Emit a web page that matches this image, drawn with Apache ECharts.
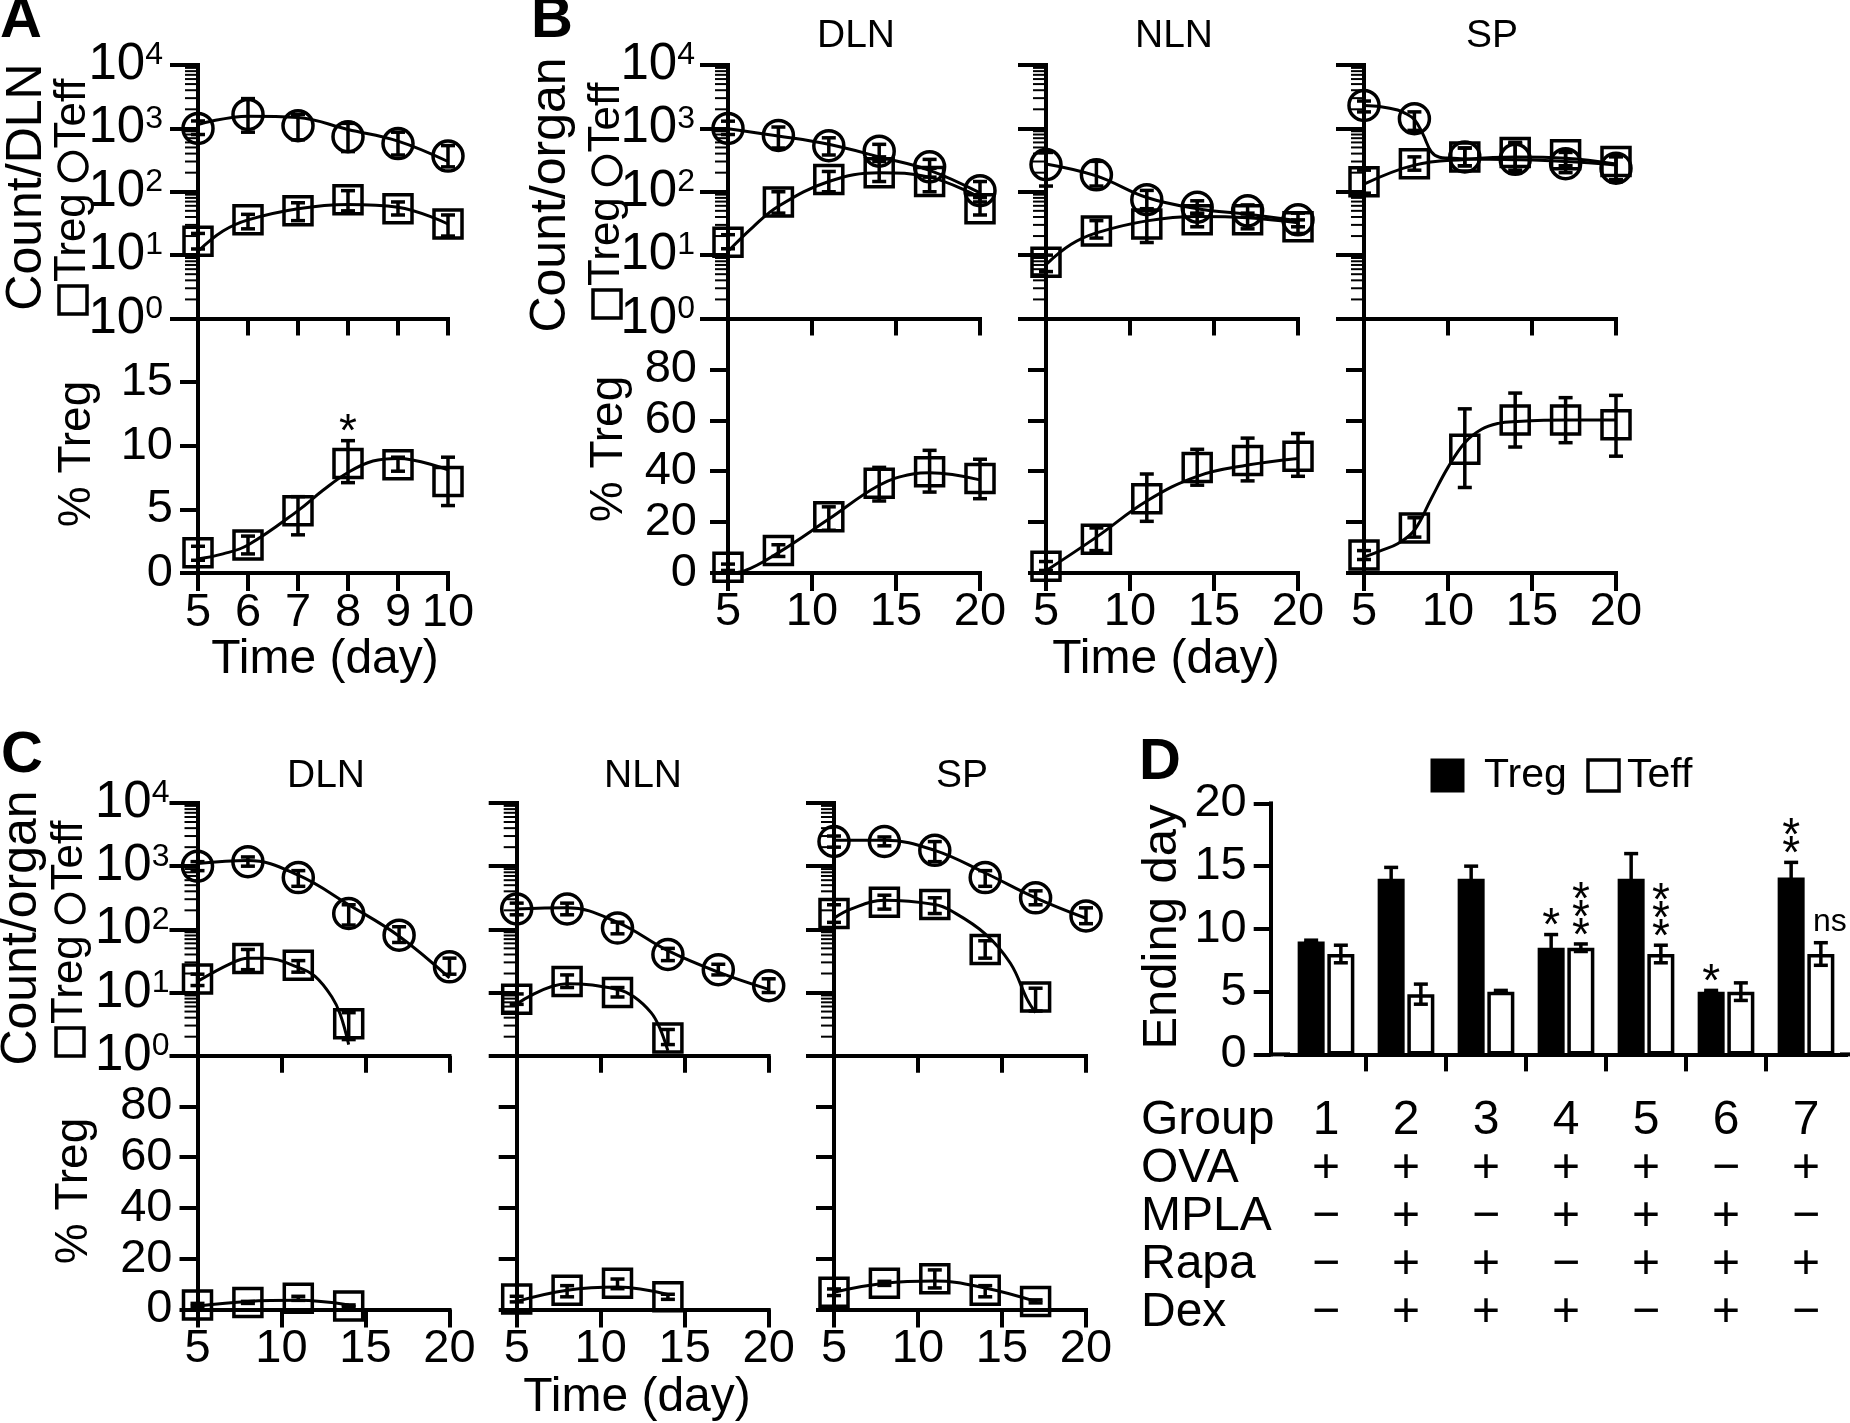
<!DOCTYPE html>
<html><head><meta charset="utf-8">
<script src="https://cdn.jsdelivr.net/npm/echarts@6/dist/echarts.min.js"></script>
<style>html,body{margin:0;padding:0;background:#fff}#c{width:1850px;height:1423px}</style>
</head><body><div id="c"></div>
<script>
// ---------------- Panel A (DLN, days 5-10) ----------------
const A_days = [5, 6, 7, 8, 9, 10];
const A_teff = [1000, 1660, 1100, 740, 575, 365];
const A_teffLo = [800, 870, 660, 430, 380, 247];
const A_teffHi = [1310, 2950, 1660, 1200, 870, 535];
const A_treg = [16.5, 36, 50, 75, 54, 31];
const A_tregLo = [12.5, 26, 35, 50, 43, 20];
const A_tregHi = [22, 44, 67, 104, 69, 43];
const A_pct = [1.6, 2.2, 4.9, 8.6, 8.5, 7.2];
const A_pctLo = [1.0, 1.5, 3.0, 7.1, 8.0, 5.3];
const A_pctHi = [2.1, 2.9, 6.0, 10.4, 9.1, 9.1];
const A_pctSig = ['', '', '', '*', '', ''];
const A_teffFit = [[5, 1150], [6, 1560], [7, 1480], [8, 960], [9, 630], [10, 300]];
const A_tregFit = [[5, 11.5], [5.5, 24], [6, 36], [7, 54], [8, 63], [9, 57], [10, 31]];
const A_pctFit = [[5, 1.1], [5.5, 1.5], [6, 2.2], [7, 4.9], [7.5, 6.5], [8, 7.9], [8.5, 8.8], [9, 9.0], [10, 8.1]];

// ---------------- Panels B and C (days 5-20) ----------------
const BC_days = [5, 8, 11, 14, 17, 20];
// B DLN
const BD_teff = [1000, 775, 533, 437, 247, 104];
const BD_teffLo = [800, 490, 380, 300, 170, 69];
const BD_teffHi = [1300, 1050, 710, 560, 324, 145];
const BD_treg = [16, 69, 156, 200, 145, 54];
const BD_tregLo = [12.6, 46, 100, 145, 100, 43];
const BD_tregHi = [21, 100, 209, 355, 234, 81];
const BD_pct = [2.3, 8.8, 22.1, 35.3, 39.8, 37.1];
const BD_pctLo = [1.0, 6.5, 16.8, 28.3, 31.8, 29.2];
const BD_pctHi = [3.5, 11.1, 26, 41.5, 48.2, 44.7];
const BD_teffFit = [[5, 990], [8, 760], [11, 560], [14, 355], [17, 218], [20, 96]];
const BD_tregFit = [[5, 11.5], [6.5, 28], [8, 59], [11, 145], [14, 200], [17, 170], [20, 81]];
const BD_pctFit = [[5, 0], [6, 0.9], [8, 8], [11, 21.2], [14, 34.5], [16, 38.9], [17, 39.4], [20, 36.6]];
// B NLN
const BN_teff = [268, 185, 75, 57, 50, 36];
const BN_teffLo = [123, 123, 54, 45, 40, 28];
const BN_teffHi = [417, 302, 105, 72, 62, 46];
const BN_treg = [7.7, 24, 31, 36, 36, 28];
const BN_tregLo = [5.5, 18.6, 15.8, 28, 26, 22];
const BN_tregHi = [10, 35, 50, 46, 46, 36];
const BN_pct = [2.7, 13.3, 29.2, 41.5, 44.2, 45.9];
const BN_pctLo = [1.0, 8.8, 20.3, 34.5, 36.2, 38];
const BN_pctHi = [4.5, 17.7, 38.9, 48.6, 53, 54.8];
const BN_teffFit = [[5, 275], [8, 178], [11, 81], [14, 54], [17, 44], [20, 35]];
const BN_tregFit = [[5, 7.1], [6.5, 14.8], [8, 22.4], [11, 34.7], [14, 40.7], [17, 38.9], [20, 32.4]];
const BN_pctFit = [[5, 0.9], [8, 14.1], [11, 28.3], [14, 38], [17, 42.4], [20, 45]];
// B SP
const BS_teff = [2300, 1420, 355, 325, 277, 235];
const BS_teffLo = [1820, 930, 257, 200, 200, 145];
const BS_teffHi = [2700, 1820, 490, 575, 417, 355];
const BS_treg = [144, 277, 355, 417, 383, 300];
const BS_tregLo = [95, 219, 257, 219, 257, 155];
const BS_tregHi = [219, 355, 490, 603, 447, 380];
const BS_pct = [7.1, 17.7, 48.6, 60.1, 60.1, 58.3];
const BS_pctLo = [5.3, 14.1, 33.6, 49.5, 51.2, 45.9];
const BS_pctHi = [8.8, 21.7, 64.5, 70.7, 68.9, 69.8];
const BS_teffFit = [[5, 2290], [6, 2200], [7, 1950], [7.5, 1700], [8, 1380], [8.5, 820], [9, 430], [9.5, 350], [10, 340], [11, 330], [14, 320], [17, 300], [20, 265]];
const BS_tregFit = [[5, 132], [8, 263], [11, 324], [14, 355], [17, 339], [20, 275]];
const BS_pctFit = [[5, 6.2], [6, 8.8], [7, 11.5], [8, 16.8], [9, 29.2], [10, 41.5], [11, 51.2], [12, 56.5], [13, 58.8], [14, 59.5], [17, 60.1], [20, 60.1]];
// C DLN
const CD_teff = [1000, 1180, 660, 178, 81, 25.5];
const CD_teffLo = [850, 1000, 480, 117, 62, 19.5];
const CD_teffHi = [1180, 1400, 850, 245, 110, 35];
const CD_treg = [16.4, 34.5, 27, 3.2];
const CD_tregLo = [12.9, 23, 21, 1.8];
const CD_tregHi = [19.5, 48, 32, 4.8];
const CD_pct = [1.8, 2.8, 4.4, 1.4];
const CD_pctLo = [1.2, 2.4, 3.6, 1.0];
const CD_pctHi = [2.4, 3.2, 5.2, 1.8];
const CD_teffFit = [[5, 1100], [8, 1230], [11, 720], [14, 245], [17, 78], [20, 17]];
const CD_tregFit = [[5, 15], [7, 29], [8, 35], [9, 35], [11, 25], [12, 18], [13, 8.5], [13.5, 4.5], [14, 1.5]];
const CD_pctFit = [[5, 1.4], [8, 3.2], [11, 3.6], [14, 1.8]];
// C NLN
const CN_teff = [210, 210, 105, 40, 23, 12.8];
const CN_teffLo = [170, 170, 85, 32, 19, 10];
const CN_teffHi = [260, 260, 130, 50, 28, 16.5];
const CN_treg = [7.8, 15, 10, 1.9];
const CN_tregLo = [6.5, 12, 8.5, 1.5];
const CN_tregHi = [9.5, 19, 12, 2.6];
const CN_pct = [4.1, 7.6, 10.3, 5.0];
const CN_pctLo = [3.0, 5.0, 8.2, 4.0];
const CN_pctHi = [5.2, 9.4, 12, 6.0];
const CN_teffFit = [[5, 210], [8, 219], [11, 129], [14, 46], [17, 21], [20, 11.2]];
const CN_tregFit = [[5, 6.6], [8, 13.8], [11, 11.2], [12, 8.5], [13, 4.8], [13.5, 2.8], [14, 1.2]];
const CN_pctFit = [[5, 3.2], [8, 7.6], [11, 8.9], [14, 5.9]];
// C SP
const CS_teff = [2460, 2460, 1780, 660, 316, 163];
const CS_teffLo = [2000, 2100, 1180, 480, 245, 123];
const CS_teffHi = [3000, 2900, 2450, 850, 407, 219];
const CS_treg = [178, 268, 247, 48, 8.5];
const CS_tregLo = [129, 209, 178, 35, 5.1];
const CS_tregHi = [245, 347, 316, 66, 11.7];
const CS_pct = [6.8, 10.3, 12.1, 7.6, 3.2];
const CS_pctLo = [5.5, 9.5, 8.5, 5.0, 2.6];
const CS_pctHi = [8.1, 11.1, 15.6, 9.4, 3.8];
const CS_teffFit = [[5, 2570], [8, 2570], [11, 1780], [14, 780], [17, 316], [20, 150]];
const CS_tregFit = [[5, 150], [6, 209], [8, 288], [11, 247], [12, 195], [14, 85], [15.5, 29], [16.5, 7.8], [17, 4.8]];
const CS_pctFit = [[5, 6.8], [8, 10.3], [11, 11.2], [14, 8.5], [17, 3.2]];

// ---------------- Panel D ----------------
const groups = ['1', '2', '3', '4', '5', '6', '7'];
const OVA = ['+', '+', '+', '+', '+', '\u2212', '+'];
const MPLA = ['\u2212', '+', '\u2212', '+', '+', '+', '\u2212'];
const Rapa = ['\u2212', '+', '+', '\u2212', '+', '+', '+'];
const Dex = ['\u2212', '+', '+', '+', '\u2212', '+', '\u2212'];
const rowHeads = ['Group', 'OVA', 'MPLA', 'Rapa', 'Dex'];
const D_treg = [9.0, 14.0, 14.0, 8.5, 14.0, 5.0, 14.1];
const D_tregErr = [0.1, 0.9, 1.0, 1.05, 2.0, 0.1, 1.2];
const D_teff = [8.0, 4.8, 5.0, 8.5, 8.0, 5.0, 8.0];
const D_teffErr = [0.7, 0.8, 0.1, 0.3, 0.7, 0.7, 0.9];
const D_tregSig = ['', '', '', '*', '', '*', '**'];
const D_teffSig = ['', '', '', '***', '***', '', 'ns'];

// log-axis minor tick positions
const logMinor = [2, 3, 4, 5, 6, 7, 8, 9, 20, 30, 40, 50, 60, 70, 80, 90, 200, 300, 400, 500, 600, 700, 800, 900, 2000, 3000, 4000, 5000, 6000, 7000, 8000, 9000];

// ---------------- build ----------------
const FONT = '"Liberation Sans", Arial, Helvetica, sans-serif';
const BLACK = '#000';
const AX = 4;
const grids = [], xAxes = [], yAxes = [], series = [], graphic = [];

function axLine() { return { show: true, onZero: false, lineStyle: { color: BLACK, width: AX, cap: 'square' } }; }

function errRenderFactory(sig) {
  return function (params, api) {
    const x = api.value(0), lo = api.value(1), hi = api.value(2);
    const a = api.coord([x, lo]), b = api.coord([x, hi]);
    const cw = 7, st = { stroke: BLACK, lineWidth: 3.5 };
    const ch = [
      { type: 'line', shape: { x1: a[0], y1: a[1], x2: b[0], y2: b[1] }, style: st },
      { type: 'line', shape: { x1: a[0] - cw, y1: a[1], x2: a[0] + cw, y2: a[1] }, style: st },
      { type: 'line', shape: { x1: b[0] - cw, y1: b[1], x2: b[0] + cw, y2: b[1] }, style: st }
    ];
    const s = sig ? sig[params.dataIndex] : '';
    if (s) ch.push(sigText(b[0], b[1], s));
    return { type: 'group', children: ch };
  };
}
function sigText(x, yTop, s) {
  if (s === 'ns') {
    return { type: 'text', x: x + 9, y: yTop - 21, style: { text: 'ns', fontSize: 32, fontFamily: FONT, fill: BLACK, align: 'center', verticalAlign: 'middle' } };
  }
  return { type: 'text', x: x, y: yTop + 2, style: { text: s.split('').join('\n'), fontSize: 46, lineHeight: 18, fontFamily: FONT, fill: BLACK, align: 'center', verticalAlign: 'bottom' } };
}
function minorRender(params, api) {
  const p = api.coord([api.value(0), api.value(1)]);
  return { type: 'line', shape: { x1: p[0] - 13, y1: p[1], x2: p[0], y2: p[1] }, style: { stroke: BLACK, lineWidth: 2 } };
}
function fitLine(g, pts) {
  return { type: 'line', xAxisIndex: g, yAxisIndex: g, data: pts, smooth: 0.4, showSymbol: false, symbol: 'none',
    lineStyle: { color: BLACK, width: 3 }, clip: false, silent: true, z: 2 };
}
function markers(g, days, vals, sym, size) {
  return { type: 'scatter', xAxisIndex: g, yAxisIndex: g, data: days.map((d, i) => [d, vals[i]]),
    symbol: sym, symbolSize: size, clip: false, silent: true, z: 3,
    itemStyle: { color: 'rgba(255,255,255,0)', borderColor: BLACK, borderWidth: 3.5, opacity: 1 } };
}
function errSeries(g, days, lo, hi, sig) {
  return { type: 'custom', xAxisIndex: g, yAxisIndex: g, data: days.map((d, i) => [d, lo[i], hi[i]]),
    encode: { x: 0, y: [1, 2] }, renderItem: errRenderFactory(sig), clip: false, silent: true, z: 4 };
}
function minorSeries(g) {
  return { type: 'custom', xAxisIndex: g, yAxisIndex: g, data: logMinor.map(v => [5, v]),
    encode: { x: 0, y: 1 }, renderItem: minorRender, clip: false, silent: true, z: 1 };
}

function addPanel(p) {
  const gt = grids.length;
  grids.push({ left: p.left, top: p.top, width: p.width, height: p.hTop, containLabel: false, outerBoundsMode: 'none' });
  xAxes.push({ gridIndex: gt, type: 'value', min: 5, max: p.xmax, interval: p.xint, axisLine: axLine(),
    axisTick: { show: true, length: 17, lineStyle: { color: BLACK, width: AX } }, axisLabel: { show: false }, splitLine: { show: false } });
  yAxes.push({ gridIndex: gt, type: 'log', logBase: 10, min: 1, max: 10000, splitNumber: 4, axisLine: axLine(),
    axisTick: { show: true, length: 28, lineStyle: { color: BLACK, width: AX } }, minorTick: { show: false }, splitLine: { show: false },
    axisLabel: { show: p.yLabels, margin: p.logMargin, showMinLabel: true, showMaxLabel: true,
      formatter: v => '{b|10}{s|' + Math.round(Math.log10(v)) + '}',
      rich: { b: { fontSize: 51, lineHeight: 51, fontFamily: FONT, color: BLACK },
              s: { fontSize: 32, lineHeight: 32, fontFamily: FONT, color: BLACK, verticalAlign: 'top' } } } });
  const gb = grids.length;
  grids.push({ left: p.left, top: p.top + p.hTop, width: p.width, height: p.hBot, containLabel: false, outerBoundsMode: 'none' });
  xAxes.push({ gridIndex: gb, type: 'value', min: 5, max: p.xmax, interval: p.xint, axisLine: axLine(),
    axisTick: { show: true, length: 18, lineStyle: { color: BLACK, width: AX } }, splitLine: { show: false },
    axisLabel: { show: true, fontSize: 47, lineHeight: 47, fontFamily: FONT, color: BLACK, margin: p.xMargin, showMinLabel: true, showMaxLabel: true } });
  yAxes.push({ gridIndex: gb, type: 'value', min: 0, max: p.pctMax, interval: p.pctInt, axisLine: axLine(),
    axisTick: { show: true, length: 18, lineStyle: { color: BLACK, width: AX } }, splitLine: { show: false },
    axisLabel: { show: p.yLabels, fontSize: 47, fontFamily: FONT, color: BLACK, margin: p.pctMargin, showMinLabel: true,
      formatter: v => (v >= p.pctMax ? '' : String(v)) } });

  const tdays = p.days.slice(0, p.treg.length);
  const pdays = p.days.slice(0, p.pct.length);
  series.push(minorSeries(gt));
  series.push(fitLine(gt, p.teffFit), fitLine(gt, p.tregFit));
  series.push(markers(gt, p.days, p.teff, 'circle', 30), markers(gt, tdays, p.treg, 'rect', 28));
  series.push(errSeries(gt, p.days, p.teffLo, p.teffHi), errSeries(gt, tdays, p.tregLo, p.tregHi));
  series.push(fitLine(gb, p.pctFit), markers(gb, pdays, p.pct, 'rect', 28), errSeries(gb, pdays, p.pctLo, p.pctHi, p.pctSig));
}

const topB = 65, hTopB = 253.5, hBotB = 254.5;
const topC = 803, hTopC = 252.7, hBotC = 253.8;
addPanel({ left: 198, top: topB, hTop: hTopB, hBot: hBotB, width: 250, xmax: 10, xint: 1, yLabels: true, logMargin: 35, pctMargin: 25, xMargin: 17, pctMax: 20, pctInt: 5,
  days: A_days, teff: A_teff, teffLo: A_teffLo, teffHi: A_teffHi, treg: A_treg, tregLo: A_tregLo, tregHi: A_tregHi,
  pct: A_pct, pctLo: A_pctLo, pctHi: A_pctHi, pctSig: A_pctSig, teffFit: A_teffFit, tregFit: A_tregFit, pctFit: A_pctFit });
const bcPanels = [
  { left: 728, top: topB, hTop: hTopB, hBot: hBotB, yLabels: true, logMargin: 33, pctMargin: 31,
    teff: BD_teff, teffLo: BD_teffLo, teffHi: BD_teffHi, treg: BD_treg, tregLo: BD_tregLo, tregHi: BD_tregHi,
    pct: BD_pct, pctLo: BD_pctLo, pctHi: BD_pctHi, teffFit: BD_teffFit, tregFit: BD_tregFit, pctFit: BD_pctFit },
  { left: 1046, top: topB, hTop: hTopB, hBot: hBotB, yLabels: false,
    teff: BN_teff, teffLo: BN_teffLo, teffHi: BN_teffHi, treg: BN_treg, tregLo: BN_tregLo, tregHi: BN_tregHi,
    pct: BN_pct, pctLo: BN_pctLo, pctHi: BN_pctHi, teffFit: BN_teffFit, tregFit: BN_tregFit, pctFit: BN_pctFit },
  { left: 1364, top: topB, hTop: hTopB, hBot: hBotB, yLabels: false,
    teff: BS_teff, teffLo: BS_teffLo, teffHi: BS_teffHi, treg: BS_treg, tregLo: BS_tregLo, tregHi: BS_tregHi,
    pct: BS_pct, pctLo: BS_pctLo, pctHi: BS_pctHi, teffFit: BS_teffFit, tregFit: BS_tregFit, pctFit: BS_pctFit },
  { left: 197.5, top: topC, hTop: hTopC, hBot: hBotC, yLabels: true, logMargin: 28, pctMargin: 25,
    teff: CD_teff, teffLo: CD_teffLo, teffHi: CD_teffHi, treg: CD_treg, tregLo: CD_tregLo, tregHi: CD_tregHi,
    pct: CD_pct, pctLo: CD_pctLo, pctHi: CD_pctHi, teffFit: CD_teffFit, tregFit: CD_tregFit, pctFit: CD_pctFit },
  { left: 516.7, top: topC, hTop: hTopC, hBot: hBotC, yLabels: false,
    teff: CN_teff, teffLo: CN_teffLo, teffHi: CN_teffHi, treg: CN_treg, tregLo: CN_tregLo, tregHi: CN_tregHi,
    pct: CN_pct, pctLo: CN_pctLo, pctHi: CN_pctHi, teffFit: CN_teffFit, tregFit: CN_tregFit, pctFit: CN_pctFit },
  { left: 834, top: topC, hTop: hTopC, hBot: hBotC, yLabels: false,
    teff: CS_teff, teffLo: CS_teffLo, teffHi: CS_teffHi, treg: CS_treg, tregLo: CS_tregLo, tregHi: CS_tregHi,
    pct: CS_pct, pctLo: CS_pctLo, pctHi: CS_pctHi, teffFit: CS_teffFit, tregFit: CS_tregFit, pctFit: CS_pctFit }
];
bcPanels.forEach(p => addPanel(Object.assign({ width: 252, xmax: 20, xint: 5, xMargin: 16, pctMax: 100, pctInt: 20, days: BC_days }, p)));

// ---------- Panel D ----------
const gD = grids.length;
const BAR_W = 27, BAR_OFF = (27 + 2.7) / 2;
grids.push({ left: 1286, top: 803.4, width: 560, height: 251, containLabel: false, outerBoundsMode: 'none' });
xAxes.push({ gridIndex: gD, type: 'category', data: groups, axisLine: axLine(), axisTick: { show: false }, splitLine: { show: false },
  axisLabel: { interval: 0, fontSize: 48, lineHeight: 48, fontFamily: FONT, color: BLACK, margin: 42.6,
    formatter: (v, i) => [v, OVA[i], MPLA[i], Rapa[i], Dex[i]].join('\n') } });
yAxes.push({ gridIndex: gD, type: 'value', min: 0, max: 20, interval: 5, offset: 15.3, axisLine: axLine(),
  axisTick: { show: true, length: 17, lineStyle: { color: BLACK, width: AX } }, splitLine: { show: false },
  axisLabel: { fontSize: 47, fontFamily: FONT, color: BLACK, margin: 24, showMinLabel: true, showMaxLabel: true } });
series.push({ type: 'bar', name: 'Treg', xAxisIndex: gD, yAxisIndex: gD, data: D_treg, barWidth: BAR_W, barGap: '10%',
  itemStyle: { color: BLACK, borderColor: BLACK, borderWidth: 0 }, silent: true, z: 2 });
series.push({ type: 'bar', name: 'Teff', xAxisIndex: gD, yAxisIndex: gD, data: D_teff, barWidth: BAR_W, barGap: '10%',
  itemStyle: { color: '#fff', borderColor: BLACK, borderWidth: 3.5 }, silent: true, z: 2 });
function dErrRender(sign, errArr, sigArr) {
  return function (params, api) {
    const i = api.value(0), v = api.value(1), e = errArr[params.dataIndex];
    const c = api.coord([i, v]);
    const x = c[0] + sign * BAR_OFF;
    const yT = api.coord([i, v + e])[1], yB = api.coord([i, v - e])[1];
    const st = { stroke: sign < 0 ? BLACK : BLACK, lineWidth: 3.5 }, cw = 7;
    const ch = [
      { type: 'line', shape: { x1: x, y1: yB, x2: x, y2: yT }, style: st },
      { type: 'line', shape: { x1: x - cw, y1: yT, x2: x + cw, y2: yT }, style: st },
      { type: 'line', shape: { x1: x - cw, y1: yB, x2: x + cw, y2: yB }, style: st }
    ];
    const s = sigArr[params.dataIndex];
    if (s) ch.push(sigText(x, yT, s));
    return { type: 'group', children: ch };
  };
}
series.push({ type: 'custom', xAxisIndex: gD, yAxisIndex: gD, data: D_treg.map((v, i) => [i, v]), encode: { x: 0, y: 1 },
  renderItem: dErrRender(-1, D_tregErr, D_tregSig), clip: false, silent: true, z: 5 });
series.push({ type: 'custom', xAxisIndex: gD, yAxisIndex: gD, data: D_teff.map((v, i) => [i, v]), encode: { x: 0, y: 1 },
  renderItem: dErrRender(1, D_teffErr, D_teffSig), clip: false, silent: true, z: 5 });
// separator ticks between groups
series.push({ type: 'custom', xAxisIndex: gD, yAxisIndex: gD, data: groups.slice(0, -1).map((g, i) => [i, 0]), encode: { x: 0, y: 1 },
  renderItem: (params, api) => {
    const c = api.coord([api.value(0), 0]);
    const half = api.size([1, 0])[0] / 2;
    return { type: 'line', shape: { x1: c[0] + half, y1: c[1], x2: c[0] + half, y2: c[1] + 17 }, style: { stroke: BLACK, lineWidth: AX } };
  }, clip: false, silent: true, z: 5 });

// ---------- text / decorations ----------
function txt(x, y, text, size, o) {
  o = o || {};
  const el = { type: 'text', x: x, y: y, silent: true, style: { text: text, fontSize: size, fontFamily: FONT, fontWeight: o.bold ? 'bold' : 'normal',
    fill: BLACK, align: o.align || 'center', verticalAlign: o.va || 'middle' } };
  if (o.lh) el.style.lineHeight = o.lh;
  if (o.rot) el.rotation = o.rot;
  return el;
}
const R90 = Math.PI / 2;
function keyLabel(cx, yb, f) {
  const s = 28, els = [];
  let y = yb;
  els.push({ type: 'rect', silent: true, shape: { x: cx - s / 2, y: y - s, width: s, height: s }, style: { fill: 'none', stroke: BLACK, lineWidth: 3.5 } });
  y -= s + 4;
  els.push(txt(cx, y, 'Treg', f, { align: 'left', rot: R90 }));
  y -= 2.056 * f + 0.25 * f;
  els.push({ type: 'circle', silent: true, shape: { cx: cx, cy: y - s / 2, r: s / 2 }, style: { fill: 'none', stroke: BLACK, lineWidth: 3.5 } });
  y -= s + 4;
  els.push(txt(cx, y, 'Teff', f, { align: 'left', rot: R90 }));
  return els;
}
// panel letters
graphic.push(txt(21, 21, 'A', 58, { bold: true }), txt(552, 21, 'B', 58, { bold: true }),
  txt(22, 756, 'C', 58, { bold: true }), txt(1160, 763, 'D', 58, { bold: true }));
// organ titles
graphic.push(txt(856, 36, 'DLN', 39), txt(1174, 36, 'NLN', 39), txt(1492, 36, 'SP', 39));
graphic.push(txt(326, 776, 'DLN', 39), txt(643, 776, 'NLN', 39), txt(962, 776, 'SP', 39));
// axis titles
graphic.push(txt(27, 187, 'Count/DLN', 50, { rot: R90 }), txt(551, 195, 'Count/organ', 50, { rot: R90 }), txt(22, 928, 'Count/organ', 50, { rot: R90 }));
graphic.push(...keyLabel(73, 314, 44), ...keyLabel(607, 318, 44), ...keyLabel(70, 1056, 44));
graphic.push(txt(77, 454, '% Treg', 46, { rot: R90 }), txt(609, 449, '% Treg', 46, { rot: R90 }), txt(74, 1191, '% Treg', 46, { rot: R90 }));
graphic.push(txt(325, 660, 'Time (day)', 48), txt(1166, 660, 'Time (day)', 48), txt(637, 1398, 'Time (day)', 48));
// panel D extras
graphic.push(txt(1162, 927, 'Ending day', 49, { rot: R90 }));
graphic.push({ type: 'line', silent: true, shape: { x1: 1269, y1: 1054.4, x2: 1290, y2: 1054.4 }, style: { stroke: BLACK, lineWidth: AX } });
graphic.push({ type: 'line', silent: true, shape: { x1: 1840, y1: 1054.4, x2: 1850, y2: 1054.4 }, style: { stroke: BLACK, lineWidth: AX } });
graphic.push({ type: 'rect', silent: true, shape: { x: 1430.5, y: 758.5, width: 34, height: 34 }, style: { fill: BLACK } });
graphic.push(txt(1484, 776, 'Treg', 41, { align: 'left' }));
graphic.push({ type: 'rect', silent: true, shape: { x: 1588, y: 760, width: 31, height: 31 }, style: { fill: '#fff', stroke: BLACK, lineWidth: 3.5 } });
graphic.push(txt(1627, 776, 'Teff', 41, { align: 'left' }));
graphic.push(txt(1141, 1097, rowHeads.join('\n'), 48, { align: 'left', va: 'top', lh: 48 }));

const chart = echarts.init(document.getElementById('c'), null, { renderer: 'canvas', width: 1850, height: 1423 });
chart.setOption({
  animation: false,
  backgroundColor: '#fff',
  textStyle: { fontFamily: FONT, color: BLACK },
  grid: grids, xAxis: xAxes, yAxis: yAxes, series: series, graphic: graphic
});
</script></body></html>
